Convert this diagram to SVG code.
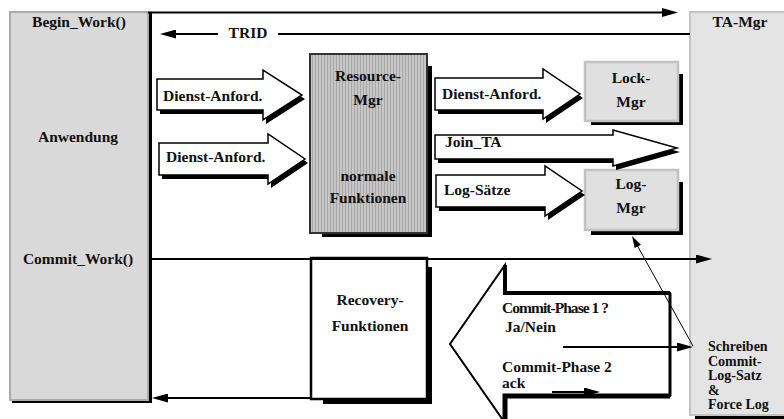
<svg xmlns="http://www.w3.org/2000/svg" width="784" height="419" viewBox="0 0 784 419">
<defs>
<marker id="arr" markerUnits="userSpaceOnUse" markerWidth="16" markerHeight="9" refX="8" refY="4.5" orient="auto"><path d="M0,0 L16,4.5 L0,9 z" fill="#000"/></marker>
<marker id="arrs" markerUnits="userSpaceOnUse" markerWidth="12" markerHeight="7" refX="6" refY="3.5" orient="auto"><path d="M0,0 L12,3.5 L0,7 z" fill="#000"/></marker>
<pattern id="stripe" width="3" height="3" patternUnits="userSpaceOnUse"><rect width="3" height="3" fill="#c6c6c6"/><rect width="1" height="3" fill="#a8a8a8"/></pattern>
</defs>
<style>
text{font-family:"Liberation Serif","Times New Roman",serif;font-weight:bold;font-size:15.5px;fill:#111}
.c{text-anchor:middle}
.sh{fill:#000}
.blk{fill:#fff;stroke:#000;stroke-width:1.5;stroke-linejoin:miter}
.ln{stroke:#000;stroke-width:2;fill:none}
.lt{fill:#e0e0e0;stroke:#c2c2c2;stroke-width:2.5}
</style>
<rect width="784" height="419" fill="#fff"/>

<g id="anwendung">
<rect class="sh" x="12" y="12" width="140" height="391"/>
<rect x="10" y="12" width="138" height="388" fill="#d9d9d9" stroke="#ababab" stroke-width="2"/>
<text class="c" x="79" y="27">Begin_Work()</text>
<text class="c" x="78" y="142">Anwendung</text>
<text class="c" x="78" y="264">Commit_Work()</text>
</g>

<g id="ta-mgr">
<rect class="sh" x="695" y="20" width="100" height="399"/>
<rect x="690" y="12" width="110" height="403" fill="#e4e4e4" stroke="#c4c4c4" stroke-width="2"/>
<text class="c" x="740" y="27">TA-Mgr</text>
<text x="708" y="351" style="font-size:14px"><tspan x="708" y="351">Schreiben</tspan><tspan x="708" y="365.5">Commit-</tspan><tspan x="708" y="380">Log-Satz</tspan><tspan x="708" y="394.5">&amp;</tspan><tspan x="708" y="409">Force Log</tspan></text>
</g>

<g id="resource-mgr">
<rect class="sh" x="322" y="66" width="110" height="171"/>
<rect x="310" y="54" width="117" height="179" fill="url(#stripe)" stroke="#333" stroke-width="2"/>
<text class="c" x="368" y="81">Resource-</text>
<text class="c" x="368" y="105">Mgr</text>
<text class="c" x="368" y="181">normale</text>
<text class="c" x="368" y="203">Funktionen</text>
</g>

<g id="lock-mgr">
<rect class="sh" x="591" y="74" width="92" height="51"/>
<rect class="lt" x="585" y="62" width="93" height="59"/>
<text class="c" x="631" y="83">Lock-</text>
<text class="c" x="631" y="107">Mgr</text>
</g>

<g id="log-mgr">
<rect class="sh" x="591" y="182" width="92" height="53"/>
<rect class="lt" x="585" y="170" width="93" height="60"/>
<text class="c" x="631" y="189">Log-</text>
<text class="c" x="631" y="213">Mgr</text>
</g>

<g id="recovery">
<rect class="sh" x="323" y="267" width="109" height="137"/>
<rect x="311" y="258" width="116" height="141" fill="#fff" stroke="#000" stroke-width="2.5"/>
<text class="c" x="370" y="305">Recovery-</text>
<text class="c" x="370" y="331">Funktionen</text>
</g>

<g id="connectors">
<line class="ln" x1="148" y1="12.5" x2="670" y2="12.5" stroke-width="3" marker-end="url(#arr)"/>
<line class="ln" x1="690" y1="34" x2="278" y2="34"/>
<line class="ln" x1="218" y1="34" x2="168" y2="34" marker-end="url(#arr)"/>
<text class="c" x="248" y="38">TRID</text>
<line class="ln" x1="150" y1="259" x2="704" y2="259" marker-end="url(#arr)"/>
<line class="ln" x1="311" y1="398" x2="160" y2="398" marker-end="url(#arr)"/>

<g id="arrow-dienst1">
<polygon class="sh" points="160,83 266,83 266,74 305,99 266,124 266,114 160,114"/>
<polygon class="blk" points="157,79 263,79 263,70 302,95 263,120 263,110 157,110"/>
<text x="163" y="101">Dienst-Anford.</text>
</g>
<g id="arrow-dienst2">
<polygon class="sh" points="162,147 271,147 271,138 308,163 271,188 271,179 162,179"/>
<polygon class="blk" points="159,143 268,143 268,134 305,159 268,184 268,175 159,175"/>
<text x="166" y="162">Dienst-Anford.</text>
</g>
<g id="arrow-dienst3">
<polygon class="sh" points="438,82 546,82 546,73 583,98 546,123 546,114 438,114"/>
<polygon class="blk" points="435,78 543,78 543,69 580,94 543,119 543,110 435,110"/>
<text x="442" y="99">Dienst-Anford.</text>
</g>
<g id="arrow-join">
<polygon class="sh" points="438,139 616,139 616,134 680,152 616,170 616,163 438,163"/>
<polygon class="blk" points="435,135 613,135 613,130 677,148 613,166 613,159 435,159"/>
<text x="445" y="147">Join_TA</text>
</g>
<g id="arrow-log">
<polygon class="sh" points="439,179 548,179 548,170 585,195 548,220 548,211 439,211"/>
<polygon class="blk" points="436,175 545,175 545,166 582,191 545,216 545,207 436,207"/>
<text x="444" y="195">Log-Sätze</text>
</g>

<g id="arrow-commit">
<polygon points="450,344 505,265 505,293 670,293 670,396 505,396 505,423" fill="#fff" stroke="#000" stroke-width="2"/>
<polyline points="505,265 505,293 670,293" fill="none" stroke="#000" stroke-width="4"/>
<polyline points="505,423 505,396 670,396" fill="none" stroke="#000" stroke-width="5"/>
<line x1="670" y1="293" x2="670" y2="396" stroke="#000" stroke-width="3"/>
<text x="502" y="313" textLength="107" lengthAdjust="spacing">Commit-Phase 1 ?</text>
<text x="505" y="332">Ja/Nein</text>
<text x="502" y="372">Commit-Phase 2</text>
<text x="502" y="388">ack</text>
</g>
<line class="ln" x1="563" y1="347" x2="685" y2="347" marker-end="url(#arr)"/>
<line class="ln" x1="552" y1="392" x2="592" y2="392" marker-end="url(#arr)"/>
<line x1="693" y1="346" x2="634.9" y2="241.2" stroke="#000" stroke-width="1" marker-end="url(#arrs)"/>
</g>
</svg>
